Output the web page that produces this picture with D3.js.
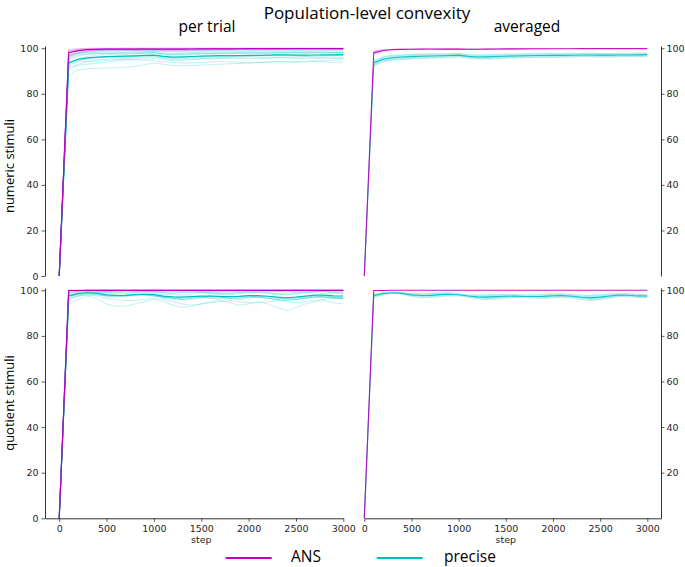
<!DOCTYPE html>
<html>
<head>
<meta charset="utf-8">
<script src="https://cdn.jsdelivr.net/npm/d3@7"></script>
<style>
  html, body { margin: 0; padding: 0; background: #fff; }
  svg { display: block; }
</style>
</head>
<body>
<svg id="chart" width="685" height="567"></svg>
<script>
// ---------------- DATA ----------------
const steps = [0,100,200,300,400,500,600,700,800,900,1000,1100,1200,1300,1400,1500,1600,1700,1800,1900,2000,2100,2200,2300,2400,2500,2600,2700,2800,2900,3000];
const xTicks = [0,500,1000,1500,2000,2500,3000];
const yTicksLeft = [0,20,40,60,80,100];
const yTicksRight = [20,40,60,80,100];
const columnTitles = ["per trial", "averaged"];
const rowTitles = ["numeric stimuli", "quotient stimuli"];
const seriesNames = ["ANS", "precise"];

const numericANS = [
 [0,98.0,99.0,99.5,99.6,99.7,99.7,99.8,99.8,99.8,99.8,99.8,99.8,99.8,99.9,99.9,99.9,99.9,99.9,99.9,99.9,99.9,99.9,99.9,99.9,99.9,99.9,99.9,99.9,99.9,99.9],
 [0,97.0,98.5,99.0,99.2,99.4,99.5,99.5,99.6,99.6,99.6,99.5,99.5,99.6,99.6,99.7,99.7,99.7,99.7,99.7,99.8,99.8,99.8,99.8,99.8,99.8,99.8,99.8,99.8,99.8,99.8],
 [0,99.5,99.8,100,100,100,100,100,100,100,100,100,100,100,100,100,100,100,100,100,100,100,100,100,100,100,100,100,100,100,100],
 [0,98.5,99.2,99.5,99.5,99.4,99.3,99.2,99.0,98.8,98.8,98.9,99.0,99.0,99.1,99.2,99.3,99.3,99.4,99.4,99.5,99.5,99.5,99.6,99.6,99.6,99.6,99.7,99.7,99.7,99.7],
 [0,99.0,99.5,99.8,99.8,99.9,99.9,100,100,100,100,100,100,100,100,100,100,100,100,100,100,100,100,100,100,100,100,100,100,100,100],
 [0,96.5,98.0,98.8,99.0,99.2,99.3,99.4,99.4,99.5,99.5,99.4,99.3,99.4,99.5,99.5,99.6,99.6,99.6,99.7,99.7,99.7,99.7,99.8,99.8,99.8,99.8,99.8,99.8,99.8,99.8]
];

const numericPrecise = [
 [0,88.0,90.5,91.0,91.2,91.3,91.4,91.6,92.0,92.8,93.5,93.0,92.5,92.3,92.4,92.6,92.8,93.0,93.2,93.3,93.5,93.6,93.8,94.0,94.0,94.2,94.3,94.5,94.6,94.8,95.0],
 [0,90.5,93.0,94.0,94.5,94.8,95.0,95.0,95.2,95.3,95.5,95.0,94.5,94.8,95.0,95.2,95.3,95.5,95.6,95.5,95.4,95.5,95.6,95.8,95.7,95.6,95.5,95.6,95.7,95.8,96.0],
 [0,92.0,94.5,95.5,96.0,96.3,96.5,96.5,96.6,96.8,97.0,96.2,95.8,96.0,96.2,96.4,96.5,96.6,96.6,96.5,96.7,96.8,96.8,96.9,97.0,96.8,96.6,96.7,96.8,96.9,97.0],
 [0,93.5,95.5,96.5,97.0,97.2,97.4,97.5,97.6,97.8,98.0,97.2,97.0,97.1,97.3,97.4,97.5,97.6,97.6,97.7,97.8,97.8,97.9,98.0,98.0,97.9,97.8,97.9,98.0,98.0,98.1],
 [0,95.0,96.5,97.5,97.8,98.0,98.1,98.2,98.3,98.3,98.4,98.0,97.8,98.0,98.1,98.2,98.3,98.3,98.4,98.4,98.5,98.5,98.6,98.6,98.7,98.6,98.5,98.6,98.7,98.7,98.8],
 [0,96.0,97.5,98.2,98.5,98.6,98.7,98.8,98.8,98.9,99.0,98.6,98.4,98.5,98.6,98.7,98.8,98.8,98.9,98.9,99.0,99.0,99.0,99.1,99.1,99.0,98.9,99.0,99.1,99.1,99.2],
 [0,94.0,95.0,95.5,95.8,96.0,96.0,96.2,96.3,96.4,96.5,95.5,95.0,95.2,95.4,95.5,95.6,95.8,96.0,96.1,96.2,96.0,95.8,95.9,96.0,96.1,96.2,96.0,95.8,95.6,95.5],
 [0,91.5,92.5,93.0,93.5,94.0,94.5,95.0,95.0,94.8,94.5,94.0,93.8,93.5,93.6,93.8,94.0,94.2,94.0,93.8,93.6,93.8,94.0,94.2,94.0,93.8,94.0,94.2,94.0,93.8,94.0],
 [0,97.0,98.0,98.5,98.8,99.0,99.0,99.1,99.1,99.2,99.2,99.0,98.8,98.9,99.0,99.1,99.1,99.2,99.2,99.3,99.3,99.3,99.4,99.4,99.4,99.3,99.3,99.4,99.4,99.5,99.5],
 [0,93.0,94.0,94.5,95.0,95.2,95.5,95.6,95.8,96.0,96.2,95.8,95.5,95.6,95.8,96.0,96.1,96.2,96.3,96.4,96.5,96.6,96.7,96.8,96.8,96.6,96.5,96.6,96.7,96.8,96.9],
 [0,95.5,97.0,97.5,97.6,97.8,97.9,98.0,98.0,98.1,98.2,97.5,97.2,97.4,97.5,97.6,97.7,97.8,97.9,98.0,98.0,98.0,98.1,98.2,98.2,98.1,98.0,98.0,98.1,98.2,98.2],
 [0,96.5,97.8,98.0,98.0,97.8,97.6,97.5,97.6,97.8,98.0,97.6,97.5,97.6,97.7,97.8,97.8,97.9,97.9,98.0,98.0,97.9,97.8,97.9,98.0,98.0,98.1,98.1,98.0,98.1,98.2]
];

const quotientANS = [
 [0,100,100,100,100,100,100,100,100,100,100,100,100,100,100,100,100,100,100,100,100,100,100,100,100,100,100,100,100,100,100],
 [0,99.6,99.8,100,100,100,100,100,100,100,100,100,100,100,100,100,100,100,100,100,100,100,100,100,100,100,100,100,100,100,100],
 [0,100,100,100,100,100,100,100,100,100,100,100,100,100,100,100,100,100,100,100,100,100,100,100,100,100,100,100,100,100,100],
 [0,100,99.8,100,100,100,100,100,100,100,100,100,100,100,100,100,100,100,100,100,100,100,100,100,100,100,100,100,100,100,100]
];

const quotientPrecise = [
 [0,94.0,96.0,97.5,96.5,94.0,93.0,93.0,94.0,95.0,96.0,95.0,93.5,92.5,93.0,94.0,95.0,95.5,94.5,93.5,94.0,95.0,94.0,92.5,91.0,92.5,94.0,95.0,95.5,94.5,94.0],
 [0,97.0,98.5,99.0,98.5,97.5,97.0,97.5,98.0,98.5,98.0,97.0,96.5,96.0,96.5,97.0,97.5,97.0,96.5,96.0,96.5,97.0,97.5,97.0,96.5,96.0,96.5,97.0,97.5,97.0,96.5],
 [0,99.0,99.5,99.5,99.0,99.0,99.2,99.5,99.5,99.0,98.5,98.0,98.5,99.0,99.2,99.0,98.5,98.0,98.5,99.0,99.5,99.5,99.0,98.5,98.0,98.5,99.0,99.5,99.5,99.0,98.8],
 [0,98.0,99.0,98.5,98.0,97.5,97.5,97.5,98.0,98.0,97.5,97.0,96.5,96.0,96.5,97.0,97.5,97.0,96.5,96.5,97.0,97.5,97.0,96.5,96.0,96.5,97.0,97.5,97.0,96.5,96.5],
 [0,99.5,100,100,99.8,99.5,99.5,99.8,100,99.8,99.5,99.0,99.2,99.5,99.8,99.5,99.2,99.0,99.2,99.5,99.8,100,99.8,99.5,99.2,99.5,99.8,100,99.8,99.5,99.5],
 [0,96.0,97.5,98.0,97.5,96.5,96.0,95.5,95.5,96.0,96.5,96.0,95.0,94.0,93.5,94.0,94.5,95.0,95.5,95.0,94.5,94.5,95.0,95.5,95.0,94.5,95.0,95.5,96.0,96.5,97.0],
 [0,98.5,99.0,99.5,99.5,99.0,98.5,98.5,99.0,99.5,99.0,98.5,98.0,98.0,98.5,99.0,99.0,98.5,98.0,98.5,99.0,99.0,98.5,98.0,98.0,98.5,99.0,99.0,98.5,98.5,98.5],
 [0,96.0,97.5,98.0,98.0,97.5,97.5,98.0,98.5,98.0,97.5,96.5,96.0,96.5,97.0,97.0,96.5,96.0,96.5,97.0,97.5,97.0,96.5,96.0,95.5,96.0,96.5,97.0,97.0,96.5,96.5],
 [0,100,100,99.8,99.5,99.5,99.8,100,100,99.8,99.5,99.5,99.8,100,100,99.8,99.5,99.5,99.8,100,100,99.8,99.5,99.5,99.8,100,100,99.8,99.5,99.8,100],
 [0,97.5,98.0,98.5,98.5,98.0,97.5,97.5,98.0,98.0,97.5,97.0,97.0,97.5,97.5,97.0,96.5,96.5,97.0,97.5,97.5,97.0,96.5,96.0,96.5,97.0,97.0,97.5,97.5,97.0,97.0],
 [0,99.0,99.5,99.8,99.8,99.5,99.0,99.0,99.2,99.5,99.2,99.0,98.8,99.0,99.2,99.0,98.8,98.5,98.8,99.0,99.2,99.0,98.8,98.5,98.8,99.0,99.2,99.5,99.2,99.0,99.0],
 [0,96.5,98.0,99.0,99.0,98.5,98.0,97.5,97.5,98.0,98.0,97.0,96.5,96.0,96.0,96.5,97.0,97.0,96.5,96.5,97.0,97.0,96.5,96.0,95.5,96.0,96.5,97.0,97.0,96.5,96.5]
];

// ---------------- STYLE ----------------
const colANS = "#bf00bf";
const colPrecise = "#00bfbf";
const axisColor = "#333";
const tickTextColor = "#262626";
const tickFont = "DejaVu Sans, sans-serif";
const labelFont = "'Open Sans', 'DejaVu Sans', sans-serif";

const svg = d3.select("#chart");

// scales
const xLeft = d3.scaleLinear().domain([-150, 3000]).range([45, 343.3]);
const xRight = d3.scaleLinear().domain([0, 3145]).range([364.3, 661]);
const yTop = d3.scaleLinear().domain([0, 101]).range([276, 46]);
const yBot = d3.scaleLinear().domain([0, 101]).range([518.3, 288]);

function styleAxis(g) {
  g.selectAll(".domain").attr("stroke", axisColor).attr("stroke-width", 1);
  g.selectAll(".tick line").attr("stroke", axisColor).attr("stroke-width", 0.8);
  g.selectAll(".tick text").attr("fill", tickTextColor)
    .style("font-family", tickFont).style("font-size", "9.5px");
}

function mean(trials) {
  return steps.map((s, i) => d3.mean(trials, t => t[i]));
}
function ci(trials) {
  return steps.map((s, i) => {
    const sd = d3.deviation(trials, t => t[i]) || 0;
    return 1.96 * sd / Math.sqrt(trials.length);
  });
}

function drawTrialPanel(x, y, ansTrials, preciseTrials) {
  const g = svg.append("g");
  const line = d3.line().x((d, i) => x(steps[i])).y(d => y(d));
  preciseTrials.forEach(t => {
    g.append("path").attr("d", line(t)).attr("fill", "none")
      .attr("stroke", colPrecise).attr("stroke-opacity", 0.3).attr("stroke-width", 0.8);
  });
  ansTrials.forEach(t => {
    g.append("path").attr("d", line(t)).attr("fill", "none")
      .attr("stroke", colANS).attr("stroke-opacity", 0.3).attr("stroke-width", 0.8);
  });
  g.append("path").attr("d", line(mean(preciseTrials))).attr("fill", "none")
    .attr("stroke", colPrecise).attr("stroke-width", 1.2);
  g.append("path").attr("d", line(mean(ansTrials))).attr("fill", "none")
    .attr("stroke", colANS).attr("stroke-width", 1.2);
}

function drawAvgPanel(x, y, ansTrials, preciseTrials) {
  const g = svg.append("g");
  const line = d3.line().x((d, i) => x(steps[i])).y(d => y(d));
  [[preciseTrials, colPrecise], [ansTrials, colANS]].forEach(([trials, c]) => {
    const m = mean(trials), e = ci(trials);
    const area = d3.area().x((d, i) => x(steps[i]))
      .y0((d, i) => y(Math.max(0, m[i] - e[i]))).y1((d, i) => y(Math.min(100.3, m[i] + e[i])));
    g.append("path").attr("d", area(m)).attr("fill", c).attr("fill-opacity", 0.3).attr("stroke", "none");
  });
  [[preciseTrials, colPrecise], [ansTrials, colANS]].forEach(([trials, c]) => {
    g.append("path").attr("d", line(mean(trials))).attr("fill", "none")
      .attr("stroke", c).attr("stroke-width", 1.1).attr("stroke-opacity", 0.9);
  });
}

drawTrialPanel(xLeft, yTop, numericANS, numericPrecise);
drawAvgPanel(xRight, yTop, numericANS, numericPrecise);
drawTrialPanel(xLeft, yBot, quotientANS, quotientPrecise);
drawAvgPanel(xRight, yBot, quotientANS, quotientPrecise);

// axes
svg.append("g").attr("transform", "translate(45,0)")
  .call(d3.axisLeft(yTop).tickValues(yTicksLeft).tickSize(3.5).tickSizeOuter(0).tickPadding(3)).call(styleAxis);
svg.append("g").attr("transform", "translate(45,0)")
  .call(d3.axisLeft(yBot).tickValues(yTicksLeft).tickSize(3.5).tickSizeOuter(0).tickPadding(3)).call(styleAxis);
svg.append("g").attr("transform", "translate(661,0)")
  .call(d3.axisRight(yTop).tickValues(yTicksRight).tickSize(3.5).tickSizeOuter(0).tickPadding(2)).call(styleAxis);
svg.append("g").attr("transform", "translate(661,0)")
  .call(d3.axisRight(yBot).tickValues(yTicksRight).tickSize(3.5).tickSizeOuter(0).tickPadding(2)).call(styleAxis);
svg.append("g").attr("transform", "translate(0,518.3)")
  .call(d3.axisBottom(xLeft).tickValues(xTicks).tickFormat(d3.format("d")).tickSize(3.5).tickSizeOuter(0).tickPadding(3)).call(styleAxis);
svg.append("g").attr("transform", "translate(0,518.3)")
  .call(d3.axisBottom(xRight).tickValues(xTicks).tickFormat(d3.format("d")).tickSize(3.5).tickSizeOuter(0).tickPadding(3)).call(styleAxis);

// x labels
[[xLeft, 1500], [xRight, 1500]].forEach(([x, v]) => {
  svg.append("text").attr("x", x(v)).attr("y", 543).attr("text-anchor", "middle")
    .attr("fill", tickTextColor).style("font-family", tickFont).style("font-size", "9.5px").text("step");
});

// titles
svg.append("text").attr("x", 367).attr("y", 18.5).attr("text-anchor", "middle")
  .attr("fill", "#000").style("font-family", labelFont).style("font-size", "17px").text("Population-level convexity");
svg.append("text").attr("x", 207).attr("y", 32).attr("text-anchor", "middle")
  .attr("fill", "#000").style("font-family", labelFont).style("font-size", "15.5px").text(columnTitles[0]);
svg.append("text").attr("x", 527).attr("y", 32).attr("text-anchor", "middle")
  .attr("fill", "#000").style("font-family", labelFont).style("font-size", "15.5px").text(columnTitles[1]);

// row labels
[[rowTitles[0], 166], [rowTitles[1], 403]].forEach(([t, cy]) => {
  svg.append("text").attr("transform", `translate(14,${cy}) rotate(-90)`).attr("text-anchor", "middle")
    .attr("fill", "#000").style("font-family", labelFont).style("font-size", "13px").text(t);
});

// legend
const legend = [
  {name: seriesNames[0], color: colANS, x1: 225.7, x2: 271.7, tx: 291},
  {name: seriesNames[1], color: colPrecise, x1: 376.7, x2: 422.7, tx: 444}
];
legend.forEach(l => {
  svg.append("line").attr("x1", l.x1).attr("x2", l.x2).attr("y1", 558).attr("y2", 558)
    .attr("stroke", l.color).attr("stroke-width", 2);
  svg.append("text").attr("x", l.tx).attr("y", 562).attr("fill", "#000")
    .style("font-family", labelFont).style("font-size", "15.5px").text(l.name);
});
</script>
</body>
</html>
